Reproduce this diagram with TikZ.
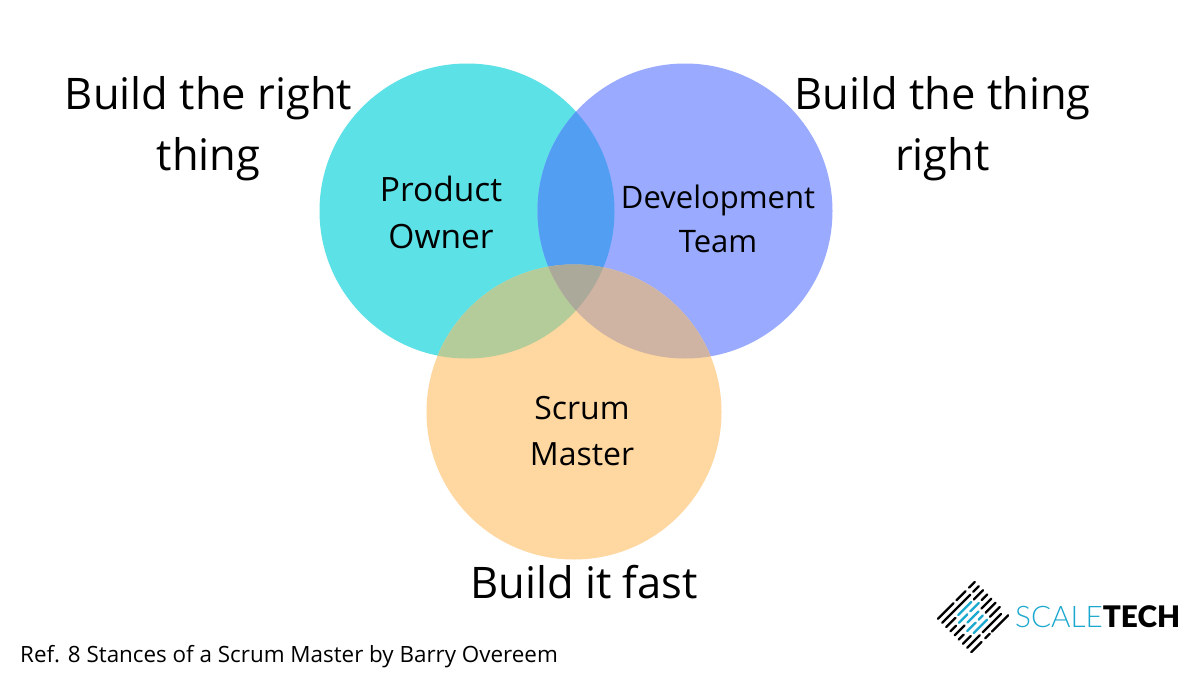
\documentclass[tikz,border=0pt]{standalone}
\usepackage{fontspec}
\setmainfont{Open Sans}
\newfontfamily\logofont[BoldFont={Lato Black}]{Lato Light}
\definecolor{cya}{HTML}{5CE1E6}
\definecolor{blu}{HTML}{9AABFF}
\definecolor{org}{HTML}{FFD7A0}
\definecolor{cybl}{HTML}{529EF3}
\definecolor{cyor}{HTML}{B4CC9A}
\definecolor{blor}{HTML}{CFB3A3}
\definecolor{mid}{HTML}{ABAA9A}
\definecolor{logob}{HTML}{1BA8CF}
\tikzset{
  big/.style={align=center,font=\fontsize{43.5}{61}\selectfont,inner sep=0pt},
  lk/.style={line width=2.3pt,line cap=round,black},
  lb/.style={line width=2.3pt,line cap=round,logob}
}
\newcommand{\cA}{(467,-211) circle (147.5)}
\newcommand{\cB}{(685,-211) circle (147.5)}
\newcommand{\cC}{(574,-412) circle (147.5)}
\begin{document}
\begin{tikzpicture}[x=1pt,y=1pt]
\useasboundingbox (0,-675) rectangle (1200,0);
\fill[white] (0,-675) rectangle (1200,0);
\fill[cya] \cA;
\fill[blu] \cB;
\fill[org] \cC;
\begin{scope}\clip \cA; \fill[cybl] \cB; \fill[cyor] \cC; \end{scope}
\begin{scope}\clip \cB; \fill[blor] \cC; \end{scope}
\begin{scope}\clip \cA; \clip \cB; \fill[mid] \cC; \end{scope}
\node[big] (t1) at (208.5,-128.5) {Build the right\\thing};
\node[big] (t2) at (942.5,-128.5) {Build the thing\\right};
\node[big] (t3) at (584,-582) {Build it fast};
\node[align=center,inner sep=0pt,font=\fontsize{33.5}{47}\selectfont] (po) at (441,-212) {Product\\Owner};
\node[align=center,inner sep=0pt,font=\fontsize{31}{44}\selectfont] (dt) at (718,-219) {Development\\Team};
\node[align=center,inner sep=0pt,font=\fontsize{32}{46}\selectfont] (sm) at (582,-431.5) {Scrum\\Master};
\node[anchor=west,inner sep=0pt,font=\fontsize{22.4}{27}\selectfont] (ref) at (20,-657) {Ref. 8 Stances of a Scrum Master by Barry Overeem};
\node[anchor=west,inner sep=0pt,font=\logofont\fontsize{29.7}{30}\selectfont,text=logob] (logo) at (1015,-617) {SCALE\textbf{\textcolor{black}{TECH}}};
\begin{scope}[shift={(973,-617)},rotate=45]
\foreach \v/\a/\b in {-23.6/-26/-4,-23.6/0/13,-23.6/18/26,
  -17.7/-26/14,-17.7/18/26,
  -11.8/-26/-13,-11.8/13/26,
  -5.9/-26/-18,-5.9/18/26,
  0/-26/-12,0/12/26,
  5.9/-26/-19,5.9/12/26,
  11.8/-26/-15,11.8/12/26,
  17.7/-26/-8,17.7/-4/22,
  23.6/-26/-11.5,23.6/-6.5/0,23.6/3/26}
  \draw[lk] (\a,-\v) -- (\b,-\v);
\foreach \v/\a/\b in {-11.8/-9/9.4,
  -5.9/-14/-2,-5.9/2/14,
  0/-8/8,
  5.9/-14/-2,5.9/2/8,
  11.8/-11/8}
  \draw[lb] (\a,-\v) -- (\b,-\v);
\end{scope}
\end{tikzpicture}
\end{document}
